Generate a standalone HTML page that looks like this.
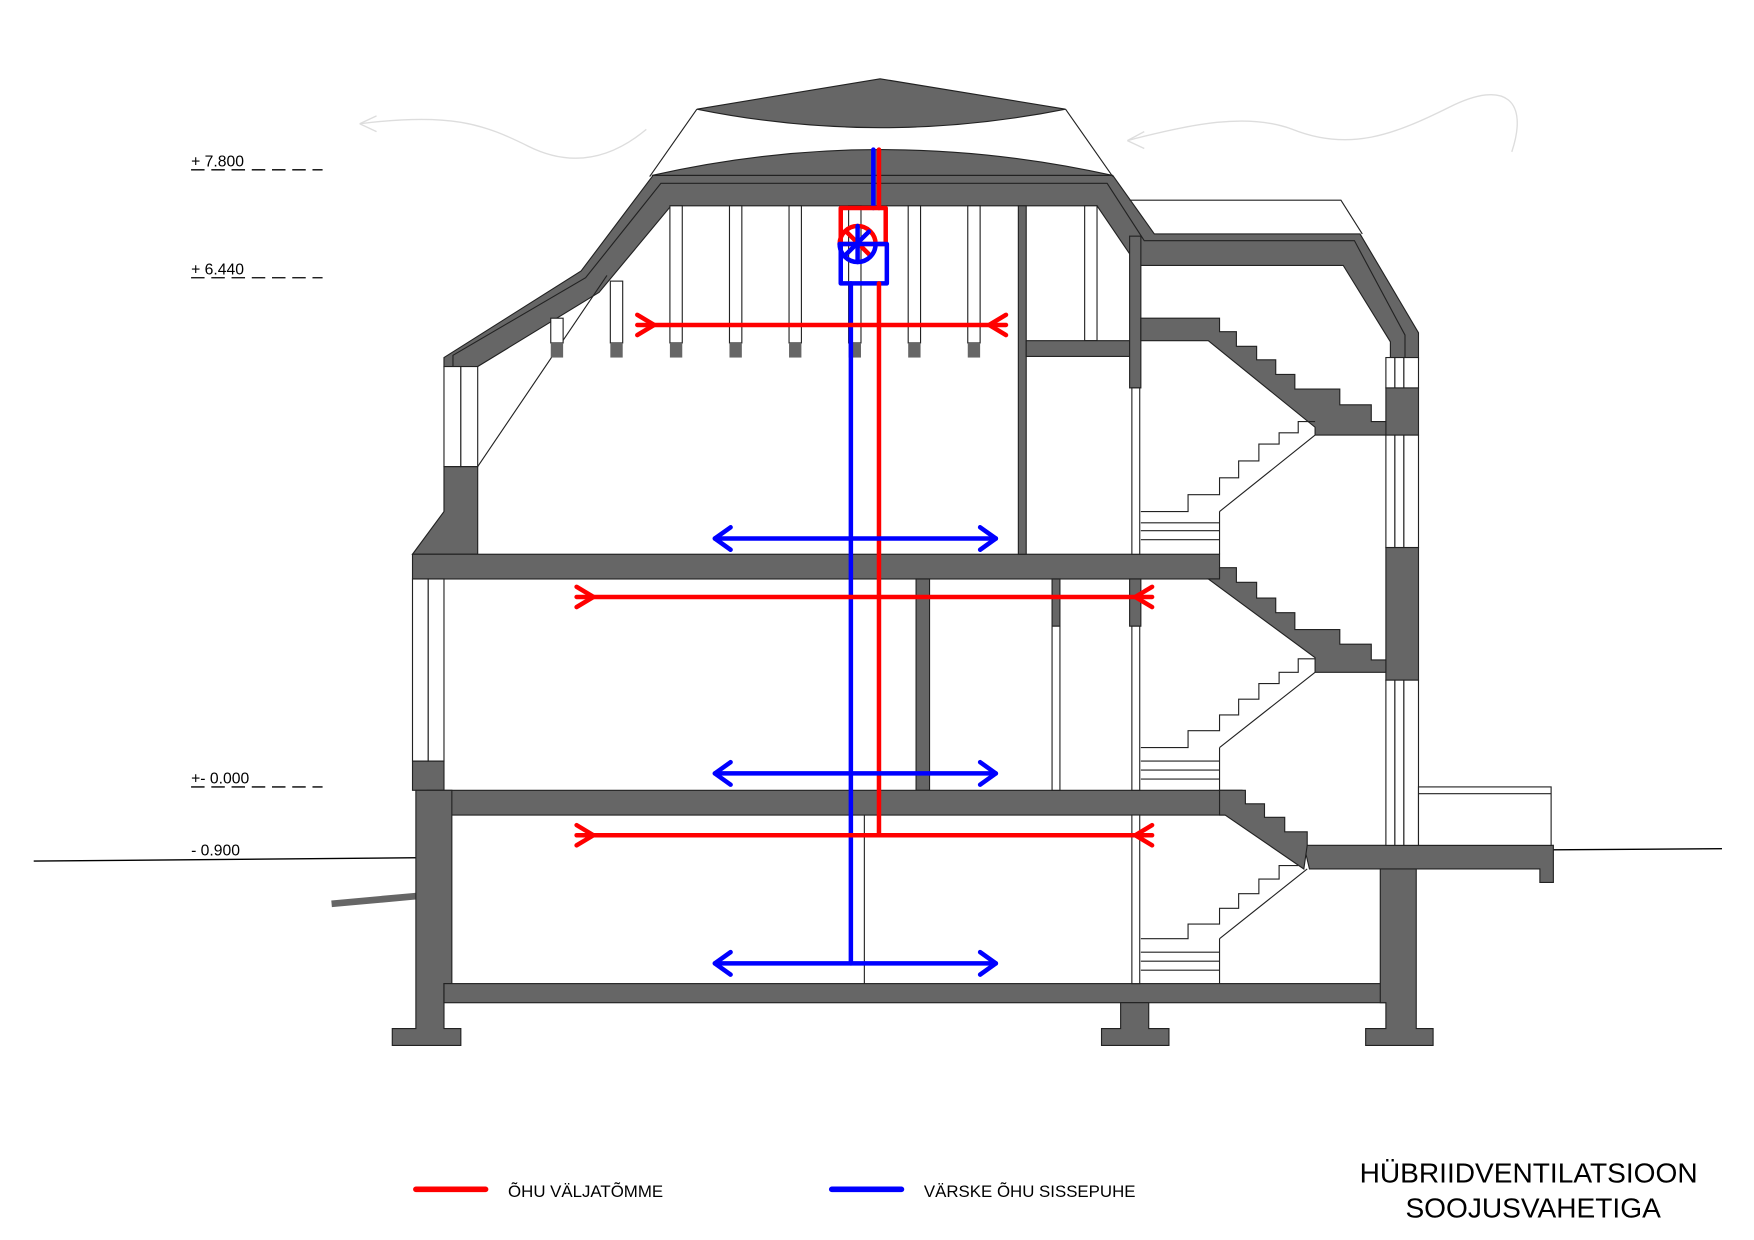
<!DOCTYPE html>
<html><head><meta charset="utf-8"><style>
html,body{margin:0;padding:0;background:#fff;}
svg{display:block;}
text{font-family:"Liberation Sans",sans-serif;}
</style></head><body>
<svg width="1754" height="1240" viewBox="0 0 1560.5 1103" xmlns="http://www.w3.org/2000/svg">
<rect width="1560.5" height="1103" fill="#fff"/>
<!-- wind sketches -->
<g fill="none" stroke="#ddd" stroke-width="1.2">
<path d="M575,115 C545,140 510,150 470,130 C430,110 400,100 320,110"/>
<path d="M320,110 L335,103 M320,110 L335,117"/>
<path d="M1003,125 C1060,110 1110,100 1150,115 C1200,135 1240,120 1290,95 C1340,70 1360,90 1345,135"/>
<path d="M1003,125 L1018,117 M1003,125 L1018,132"/>
</g>
<!-- level labels -->
<g font-size="14" fill="#000">
<text x="170" y="148">+ 7.800</text>
<text x="170" y="244">+ 6.440</text>
<text x="170" y="697">+- 0.000</text>
<text x="170" y="761">- 0.900</text>
</g>
<g stroke="#000" stroke-width="1.2" stroke-dasharray="12,6">
<line x1="170" y1="151" x2="287" y2="151"/>
<line x1="170" y1="247" x2="287" y2="247"/>
<line x1="170" y1="700" x2="287" y2="700"/>
</g>
<line x1="30" y1="766" x2="375" y2="763" stroke="#000" stroke-width="1.2"/>
<line x1="1380" y1="756" x2="1532" y2="755" stroke="#000" stroke-width="1.2"/>
<line x1="295" y1="804" x2="372" y2="797" stroke="#666" stroke-width="6"/>

<g fill="#666" stroke="#222" stroke-width="1">
<!-- roof cap -->
<path d="M620,97 L783,70 L948,97 Q783,130 620,97 Z"/>
<!-- dome -->
<path d="M580,156 Q783,110 990,156 Z"/>
<!-- main roof -->
<path d="M395,318 L517,241 L581,156 L990,156 L1027,208 L1210,208 L1262,296 L1262,320 L1237,320 L1237,304 L1195,236 L1012,236 L976,183 L597,183 L533,260 L425,326 L395,326 Z"/>
</g>
<g fill="none" stroke="#222" stroke-width="1">
<path d="M403,326 L403,316 L521,247 L588,163 L985,163 L1018,214 L1205,214 L1250,298 L1250,320"/>
<line x1="620" y1="97" x2="578" y2="157"/>
<line x1="948" y1="97" x2="990" y2="157"/>
<path d="M1005,178 L1193,178 L1212,208"/>
<line x1="425" y1="415" x2="540" y2="245"/>
</g>
<!-- joists -->
<g stroke="#222" stroke-width="1" fill="#fff">
<rect x="490" y="283" width="11" height="22"/>
<rect x="543" y="250" width="11" height="55"/>
<rect x="596" y="183" width="11" height="122"/>
<rect x="649" y="183" width="11" height="122"/>
<rect x="702" y="183" width="11" height="122"/>
<rect x="755" y="183" width="11" height="122"/>
<rect x="808" y="183" width="11" height="122"/>
<rect x="861" y="183" width="11" height="122"/>
<rect x="965" y="183" width="11" height="120"/>
</g>
<g fill="#666">
<rect x="490" y="305" width="11" height="13"/>
<rect x="543" y="305" width="11" height="13"/>
<rect x="596" y="305" width="11" height="13"/>
<rect x="649" y="305" width="11" height="13"/>
<rect x="702" y="305" width="11" height="13"/>
<rect x="755" y="305" width="11" height="13"/>
<rect x="808" y="305" width="11" height="13"/>
<rect x="861" y="305" width="11" height="13"/>
</g>

<g fill="#666" stroke="#222" stroke-width="1">
<!-- left wall upper -->
<path d="M395,415 L425,415 L425,493 L367,493 L395,455 Z"/>
<!-- floor 2 slab -->
<rect x="367" y="493" width="718" height="22"/>
<!-- interior walls -->
<rect x="906" y="183" width="7" height="310"/>
<rect x="913" y="303" width="92" height="14"/>
<rect x="1005" y="210" width="10" height="135"/>
<rect x="815" y="515" width="12" height="188"/>
<rect x="936" y="515" width="7" height="42"/>
<rect x="1005" y="515" width="10" height="42"/>
<!-- left wall lower -->
<rect x="367" y="677" width="28" height="26"/>
<!-- floor 1 slab -->
<path d="M380,703 L1105,703 L1105,725 L380,725 Z"/>
<!-- basement wall -->
<path d="M370,703 L402,703 L402,875 L395,875 L395,915 L410,915 L410,930 L349,930 L349,915 L370,915 Z"/>
<!-- basement floor -->
<rect x="395" y="875" width="863" height="17"/>
<path d="M997,892 L1022,892 L1022,915 L1040,915 L1040,930 L980,930 L980,915 L997,915 Z"/>
<path d="M1228,773 L1260,773 L1260,915 L1275,915 L1275,930 L1215,930 L1215,915 L1233,915 L1233,892 L1228,892 Z"/>
<!-- right landing -->
<path d="M1160,752 L1382,752 L1382,785 L1370,785 L1370,773 L1165,773 Z"/>
<!-- right wall gray parts -->
<rect x="1233" y="345" width="29" height="42"/>
<rect x="1233" y="487" width="29" height="118"/>
<!-- stairs upper -->
<path d="M1015,283 L1085,283 L1085,295 L1100,295 L1100,308 L1118,308 L1118,320 L1135,320 L1135,333 L1152,333 L1152,346 L1192,346 L1192,360 L1220,360 L1220,375 L1233,375 L1233,387 L1170,387 L1170,380 L1075,303 L1015,303 Z"/>
<!-- stairs middle -->
<path d="M1075,515 L1085,515 L1085,505 L1100,505 L1100,518 L1118,518 L1118,532 L1135,532 L1135,545 L1152,545 L1152,560 L1192,560 L1192,573 L1220,573 L1220,587 L1233,587 L1233,598 L1170,598 L1170,585 Z"/>
<!-- stairs lower -->
<path d="M1085,703 L1108,703 L1108,715 L1125,715 L1125,727 L1143,727 L1143,740 L1163,740 L1163,752 L1160,773 L1090,725 L1085,725 Z"/>
</g>
<!-- windows / thin lines -->
<g fill="#fff" stroke="#222" stroke-width="1">
<rect x="395" y="326" width="15" height="89"/><rect x="410" y="326" width="15" height="89"/>
<rect x="367" y="515" width="14" height="162"/><rect x="381" y="515" width="14" height="162"/>
<rect x="1233" y="318" width="8" height="27"/><rect x="1241" y="318" width="8" height="27"/><rect x="1249" y="318" width="13" height="27"/>
<rect x="1233" y="387" width="8" height="100"/><rect x="1241" y="387" width="8" height="100"/><rect x="1249" y="387" width="13" height="100"/>
<rect x="1233" y="605" width="8" height="147"/><rect x="1241" y="605" width="8" height="147"/><rect x="1249" y="605" width="13" height="147"/>
<rect x="1007" y="345" width="7" height="148"/>
<rect x="936" y="557" width="7" height="146"/>
<rect x="1007" y="557" width="7" height="146"/>
<rect x="1007" y="725" width="7" height="150"/>
<rect x="1262" y="700" width="118" height="52"/>
<line x1="769" y1="725" x2="769" y2="875"/>
</g>
<line x1="1262" y1="706" x2="1380" y2="706" stroke="#222" stroke-width="1"/>
<!-- white stair flights -->
<g fill="none" stroke="#222" stroke-width="1">
<path d="M1170,387 L1085,455 M1015,455 L1057,455 L1057,440 L1085,440 L1085,425 L1102,425 L1102,410 L1120,410 L1120,395 L1138,395 L1138,385 L1155,385 L1155,375 L1170,375"/>
<path d="M1015,465 L1085,465 M1015,472 L1085,472 M1015,480 L1085,480 M1085,455 L1085,493"/>
<path d="M1170,598 L1085,665 M1015,665 L1057,665 L1057,650 L1085,650 L1085,636 L1102,636 L1102,622 L1120,622 L1120,608 L1138,608 L1138,598 L1155,598 L1155,586 L1170,586"/>
<path d="M1015,677 L1085,677 M1015,685 L1085,685 M1015,693 L1085,693 M1085,665 L1085,703"/>
<path d="M1163,773 L1085,835 M1015,835 L1057,835 L1057,822 L1085,822 L1085,808 L1102,808 L1102,795 L1120,795 L1120,782 L1138,782 L1138,770 L1155,770"/>
<path d="M1015,847 L1085,847 M1015,855 L1085,855 M1015,863 L1085,863 M1085,835 L1085,875"/>
</g>

<!-- ducts -->
<g fill="none" stroke-width="4" stroke-linecap="round" stroke-linejoin="round">
<line x1="782" y1="133" x2="782" y2="185" stroke="#f00"/>
<line x1="777" y1="133" x2="777" y2="185" stroke="#00f"/>
<rect x="748" y="185" width="40" height="32" stroke="#f00"/>
<path d="M747,217 A16,16 0 0 1 779,217" stroke="#f00"/>
<line x1="753" y1="206" x2="773" y2="226" stroke="#f00"/>
<line x1="773" y1="206" x2="753" y2="226" stroke="#00f"/>
<rect x="748" y="217" width="41" height="35" stroke="#00f"/>
<path d="M747,217 A16,16 0 0 0 779,217" stroke="#00f"/>
<line x1="763" y1="201" x2="763" y2="233" stroke="#00f"/>
<line x1="782" y1="252" x2="782" y2="743" stroke="#f00"/>
<line x1="757" y1="252" x2="757" y2="857" stroke="#00f"/>
<!-- red lines -->
<g stroke="#f00">
<line x1="567" y1="289" x2="895" y2="289"/>
<path d="M567,280 L582,289 L567,298 M895,280 L880,289 L895,298"/>
<line x1="513" y1="531" x2="1025" y2="531"/>
<path d="M513,522 L528,531 L513,540 M1025,522 L1010,531 L1025,540"/>
<line x1="513" y1="743" x2="1025" y2="743"/>
<path d="M513,734 L528,743 L513,752 M1025,734 L1010,743 L1025,752"/>
</g>
<g stroke="#00f">
<line x1="636" y1="479" x2="886" y2="479"/>
<path d="M650,469 L636,479 L650,489 M872,469 L886,479 L872,489"/>
<line x1="636" y1="688" x2="886" y2="688"/>
<path d="M650,678 L636,688 L650,698 M872,678 L886,688 L872,698"/>
<line x1="636" y1="857" x2="886" y2="857"/>
<path d="M650,847 L636,857 L650,867 M872,847 L886,857 L872,867"/>
</g>
<line x1="370" y1="1058" x2="432" y2="1058" stroke="#f00" stroke-width="5"/>
<line x1="740" y1="1058" x2="802" y2="1058" stroke="#00f" stroke-width="5"/>
</g>
<text x="452" y="1065" font-size="15">ÕHU VÄLJATÕMME</text>
<text x="822" y="1065" font-size="15">VÄRSKE ÕHU SISSEPUHE</text>
<text x="1360" y="1052" font-size="25" text-anchor="middle">HÜBRIIDVENTILATSIOON</text>
<text x="1364" y="1083" font-size="25" text-anchor="middle">SOOJUSVAHETIGA</text>
</svg>
</body></html>
